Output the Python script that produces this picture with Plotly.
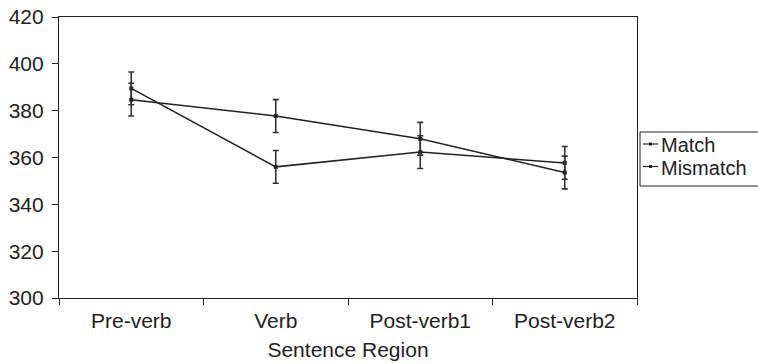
import plotly.graph_objects as go

regions = ["Pre-verb", "Verb", "Post-verb1", "Post-verb2"]
match_vals = [389.5, 356.0, 362.3, 357.7]
mismatch_vals = [384.7, 377.7, 368.0, 353.6]
match_err = [7, 7, 7, 7]
mismatch_err = [7, 7, 7, 7]
series_names = ["Match", "Mismatch"]
y_ticks = [300, 320, 340, 360, 380, 400, 420]

FONT = "Liberation Sans, Arial, sans-serif"
INK = "#222222"

W, H = 758, 364
ML, MR, MT, MB = 59, 121, 17, 66
PW, PH = W - ML - MR, H - MT - MB


def px_x(px):
    return (px - ML) / PW


def px_y(py):
    return (H - MB - py) / PH


fig = go.Figure()
for name, vals, err in zip(series_names, [match_vals, mismatch_vals], [match_err, mismatch_err]):
    fig.add_trace(go.Scatter(
        x=regions, y=vals, name=name, mode="lines+markers",
        line=dict(color=INK, width=1.5),
        marker=dict(symbol="square", size=4, color=INK),
        error_y=dict(type="data", array=err, visible=True,
                     color="#333333", thickness=1.6, width=3),
        showlegend=False,
    ))

# hand-drawn legend (box, short line keys, labels)
shapes = [dict(type="rect", xref="paper", yref="paper",
               x0=px_x(640), x1=px_x(W + 5), y0=px_y(186), y1=px_y(132),
               line=dict(color=INK, width=1), fillcolor="white", layer="above")]
annotations = []
for i, name in enumerate(series_names):
    yc = 144 + i * 22.5
    shapes.append(dict(type="line", xref="paper", yref="paper",
                       x0=px_x(643), x1=px_x(658), y0=px_y(yc), y1=px_y(yc),
                       line=dict(color=INK, width=1.2)))
    shapes.append(dict(type="rect", xref="paper", yref="paper",
                       x0=px_x(649), x1=px_x(652), y0=px_y(yc + 1.5), y1=px_y(yc - 1.5),
                       line=dict(width=0), fillcolor=INK))
    annotations.append(dict(text=name, xref="paper", yref="paper",
                            x=px_x(660), y=px_y(yc + 1), xanchor="left", yanchor="middle",
                            borderpad=0,
                            showarrow=False, font=dict(size=20, color=INK, family=FONT)))

fig.update_layout(
    width=W, height=H,
    margin=dict(l=ML, r=MR, t=MT, b=MB, autoexpand=False),
    paper_bgcolor="white", plot_bgcolor="white",
    font=dict(family=FONT, size=21, color=INK),
    showlegend=False,
    shapes=shapes,
    annotations=annotations,
    xaxis=dict(
        type="category", categoryorder="array", categoryarray=regions,
        range=[-0.5, 3.5],
        showline=True, linecolor=INK, linewidth=1.2, mirror=True,
        ticks="outside", tickson="boundaries", ticklen=6, tickcolor=INK,
        showgrid=False, zeroline=False, ticklabelstandoff=4,
        title=dict(text="Sentence Region", standoff=11, font=dict(size=21)),
        tickfont=dict(size=21),
    ),
    yaxis=dict(
        range=[300, 420], tickvals=y_ticks,
        showline=True, linecolor=INK, linewidth=1.2, mirror=True,
        ticks="outside", ticklen=6, tickcolor=INK,
        showgrid=False, zeroline=False, ticklabelstandoff=4,
        tickfont=dict(size=21),
    ),
)

fig.write_html("out.html")
